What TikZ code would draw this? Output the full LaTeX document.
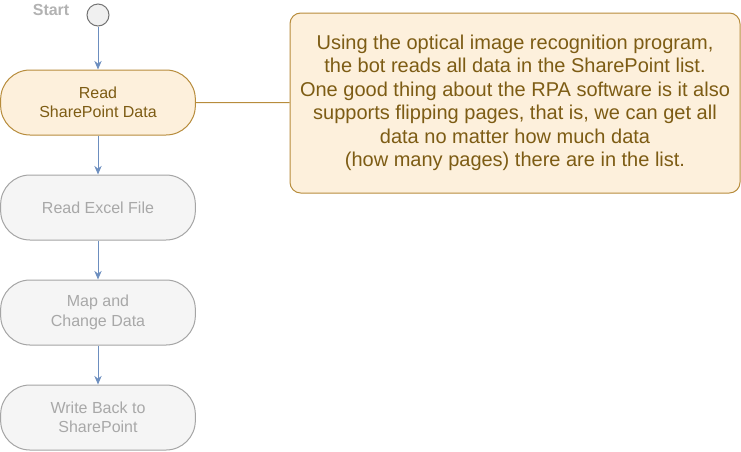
\documentclass[tikz,border=0pt]{standalone}
\usepackage{fontspec}
\setmainfont{Liberation Sans}
\usetikzlibrary{arrows.meta}
\definecolor{peachfill}{RGB}{253,240,220}
\definecolor{peachline}{RGB}{183,140,60}
\definecolor{peachtext}{RGB}{125,92,20}
\definecolor{greyfill}{RGB}{245,245,245}
\definecolor{greyline}{RGB}{165,165,165}
\definecolor{greytext}{RGB}{168,168,168}
\definecolor{flowblue}{RGB}{108,142,191}
\tikzset{
	stepbox/.style={draw=greyline, fill=greyfill, text=greytext, line width=0.75pt, rounded corners=22pt, minimum width=146pt, minimum height=48.75pt, align=center, font=\fontsize{12}{14.5}\selectfont},
	activebox/.style={stepbox, draw=peachline, fill=peachfill, text=peachtext},
	flow/.style={draw=flowblue, line width=0.75pt, -{Stealth[length=6.5pt,width=5.5pt]}}
}

\begin{document}
\begin{tikzpicture}[x=0.75pt, y=-0.75pt]
			\useasboundingbox (0,0) rectangle (741,451);
			\node[circle, draw=black!55, fill=black!6, line width=0.75pt, minimum size=16.5pt, inner sep=0pt] (start) at (98,15) {};
			\node[anchor=east, text=black!30, font=\bfseries\fontsize{12}{14}\selectfont] (startlbl) at (74,10) {Start};
			\node[activebox] (readsp) at (98,102.5) {Read\\SharePoint Data};
			\node[stepbox] (readxl) at (98,207.5) {Read Excel File};
			\node[stepbox] (mapdata) at (98,312.5) {Map and\\Change Data};
			\node[stepbox] (writeback) at (98,417.5) {Write Back to\\SharePoint};
			\node[draw=peachline, fill=peachfill, text=peachtext, line width=0.75pt, rounded corners=8pt, minimum width=337.5pt, minimum height=135pt, align=center, font=\fontsize{15}{17.6}\selectfont] (note) at (515,103) {Using the optical image recognition program,\\the bot reads all data in the SharePoint list.\\One good thing about the RPA software is it also\\supports flipping pages, that is, we can get all\\data no matter how much data\\(how many pages) there are in the list.};
			\draw[flow] (start) -- (readsp);
			\draw[flow] (readsp) -- (readxl);
			\draw[flow] (readxl) -- (mapdata);
			\draw[flow] (mapdata) -- (writeback);
			\draw[peachline, line width=0.75pt] (readsp) -- (note);
		\end{tikzpicture}
\end{document}
